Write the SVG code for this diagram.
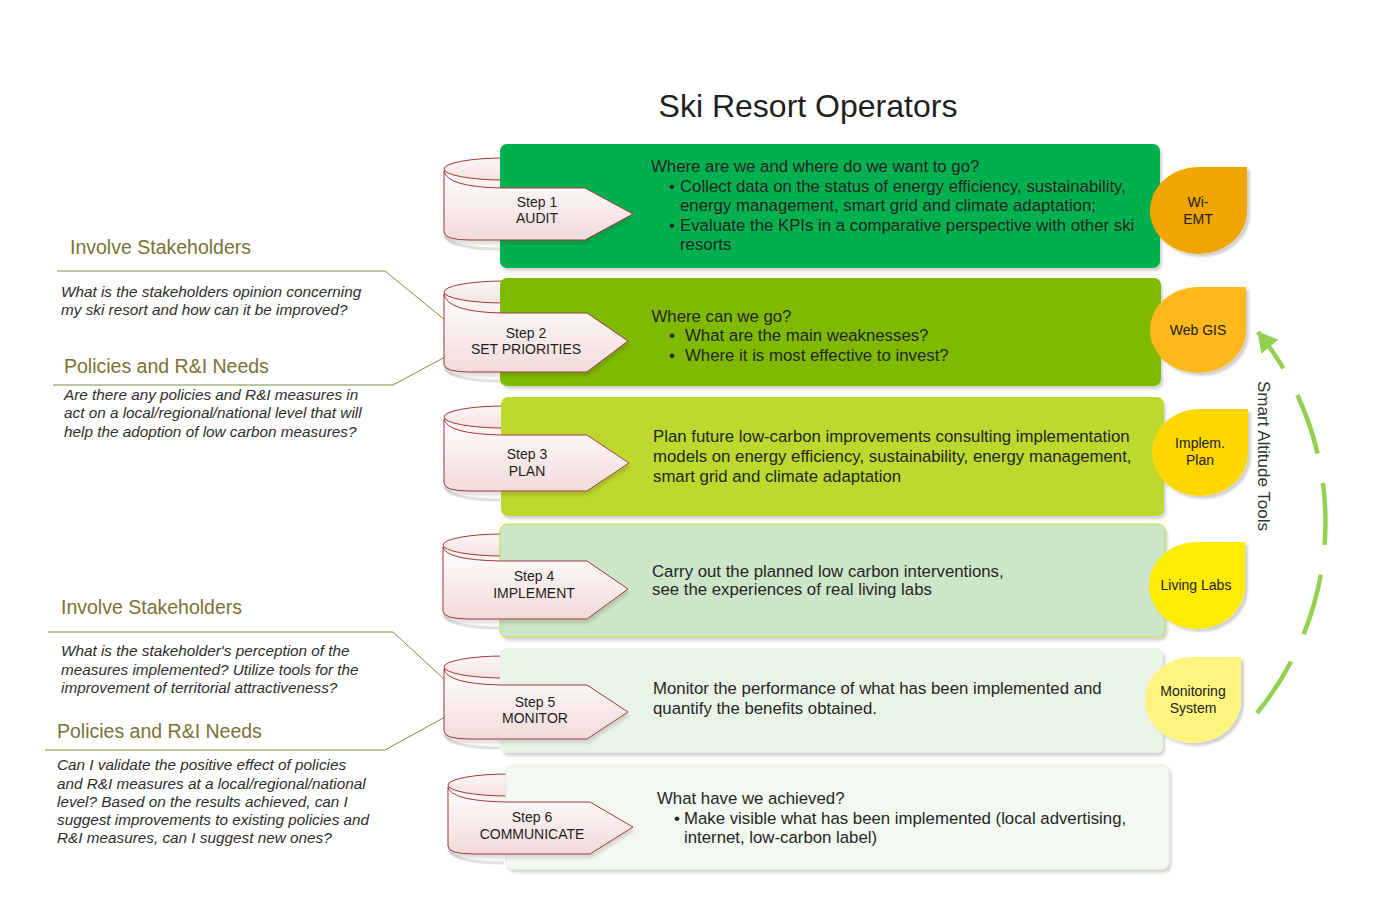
<svg xmlns="http://www.w3.org/2000/svg" width="1373" height="922" viewBox="0 0 1373 922">
<defs>
<style>
text{font-family:"Liberation Sans",Arial,sans-serif}
.cylb{fill:url(#gCyl);stroke:none}
.cyl{fill:url(#gCyl);stroke:#a23a3a;stroke-width:1}
.rib{fill:url(#gRib);stroke:#a23a3a;stroke-width:1;filter:url(#shR)}
.rsh{fill:none;stroke:#e2e2e2;stroke-width:3}
.box{filter:url(#shB)}
.st{font-size:14px;fill:#1e1e1e;text-anchor:middle}
.bt{font-size:16.8px;fill:#262626}
.hd{font-size:19.5px;fill:#7a7236}
.it{font-size:15.3px;font-style:italic;fill:#2e2e2e}
.lf{font-size:14px;fill:#222;text-anchor:middle}
.leaf{filter:url(#shL)}
.ann{fill:none;stroke:#77933c;stroke-width:1}
.arc{fill:none;stroke:#92d050;stroke-width:4.5;stroke-dasharray:62 30}
</style>
<linearGradient id="gRib" x1="0" y1="0" x2="0" y2="1">
<stop offset="0" stop-color="#ffffff"/>
<stop offset="1" stop-color="#f2dada"/>
</linearGradient>
<linearGradient id="gCyl" x1="0" y1="0" x2="0" y2="1">
<stop offset="0" stop-color="#fdf6f6"/>
<stop offset="1" stop-color="#f3e2e2"/>
</linearGradient>
<filter id="shB" x="-5%" y="-10%" width="110%" height="125%">
<feDropShadow dx="2" dy="3" stdDeviation="1.5" flood-color="#000" flood-opacity="0.18"/>
</filter>
<filter id="shR" x="-5%" y="-10%" width="115%" height="130%">
<feDropShadow dx="1" dy="4" stdDeviation="1.5" flood-color="#000" flood-opacity="0.12"/>
</filter>
<filter id="shL" x="-10%" y="-10%" width="125%" height="125%">
<feDropShadow dx="3" dy="3" stdDeviation="1.2" flood-color="#000" flood-opacity="0.18"/>
</filter>
<marker id="arr" markerUnits="userSpaceOnUse" markerWidth="26" markerHeight="26" refX="19" refY="11" orient="auto">
<path d="M0,0 L20,11 L0,22 Z" fill="#92d050"/>
</marker>
</defs>

<rect width="1373" height="922" fill="#ffffff"/>

<text id="title" x="808" y="117" font-size="32" fill="#1f1f1f" text-anchor="middle">Ski Resort Operators</text>

<g id="connectors">
<polyline class="ann" points="57,271 385,271 445,320"/>
<polyline class="ann" points="53,385 393,385 445,357"/>
<polyline class="ann" points="48,632 393,632 445,680"/>
<polyline class="ann" points="45,750 385,750 445,717"/>
<path class="arc" d="M1257,713 A301,301 0 0 0 1258,332" marker-end="url(#arr)"/>
</g>

<g id="step1">
<rect class="cylb" x="444" y="169" width="60" height="66"/>
<ellipse class="cyl" cx="504" cy="169" rx="60" ry="11"/>
<rect class="box" x="500" y="144" width="660" height="124" rx="7" fill="#00b050"/>
<text class="bt" x="651" y="172">Where are we and where do we want to go?</text>
<text class="bt" x="669" y="191.5">•</text>
<text class="bt" x="680" y="191.5">Collect data on the status of energy efficiency, sustainability,</text>
<text class="bt" x="680" y="211">energy management, smart grid and climate adaptation;</text>
<text class="bt" x="669" y="230.5">•</text>
<text class="bt" x="680" y="230.5">Evaluate the KPIs in a comparative perspective with other ski</text>
<text class="bt" x="680" y="250">resorts</text>
<path class="rsh" d="M445,236 Q452,249 500,249"/>
<path class="rib" d="M444,171 Q447,187 502,188 L585,188 L633,214 L585,240 L470,240 Q444,240 444,232 Z"/>
<text class="st" x="537" y="206.5">Step 1</text>
<text class="st" x="537" y="223">AUDIT</text>
</g>

<g id="step2">
<rect class="cylb" x="444" y="292" width="60" height="76"/>
<ellipse class="cyl" cx="504" cy="292" rx="60" ry="11"/>
<rect class="box" x="500" y="278" width="661" height="108" rx="7" fill="#7fba00"/>
<text class="bt" x="651.5" y="321.5">Where can we go?</text>
<text class="bt" x="669" y="341">•</text>
<text class="bt" x="685" y="341">What are the main weaknesses?</text>
<text class="bt" x="669" y="360.5">•</text>
<text class="bt" x="685" y="360.5">Where it is most effective to invest?</text>
<path class="rsh" d="M445,368 Q452,381 500,381"/>
<path class="rib" d="M444,294 Q447,312 502,313 L587,313 L628,341 L587,372 L470,372 Q444,372 444,364 Z"/>
<text class="st" x="526" y="338">Step 2</text>
<text class="st" x="526" y="354">SET PRIORITIES</text>
</g>

<g id="step3">
<rect class="cylb" x="444" y="417" width="60" height="70"/>
<ellipse class="cyl" cx="504" cy="417" rx="60" ry="11"/>
<rect class="box" x="501" y="397" width="663" height="119" rx="7" fill="#bdd92e"/>
<text class="bt" x="653" y="441.5">Plan future low-carbon improvements consulting implementation</text>
<text class="bt" x="653" y="461.5">models on energy efficiency, sustainability, energy management,</text>
<text class="bt" x="653" y="481.5">smart grid and climate adaptation</text>
<path class="rsh" d="M445,487 Q452,500 500,500"/>
<path class="rib" d="M444,419 Q447,434 502,435 L587,435 L629,463 L587,491 L470,491 Q444,491 444,483 Z"/>
<text class="st" x="527" y="459">Step 3</text>
<text class="st" x="527" y="476">PLAN</text>
</g>

<g id="step4">
<rect class="cylb" x="443" y="545" width="60" height="70"/>
<ellipse class="cyl" cx="503" cy="545" rx="60" ry="11"/>
<rect class="box" x="500" y="524" width="665" height="113" rx="7" fill="#cde5c8" stroke="#c4dd3a" stroke-width="1"/>
<text class="bt" x="652" y="576.5">Carry out the planned low carbon interventions,</text>
<text class="bt" x="652" y="595">see the experiences of real living labs</text>
<path class="rsh" d="M444,615 Q451,628 500,628"/>
<path class="rib" d="M443,547 Q446,560 501,561 L587,561 L628,589 L587,619 L469,619 Q443,619 443,611 Z"/>
<text class="st" x="534" y="581">Step 4</text>
<text class="st" x="534" y="598">IMPLEMENT</text>
</g>

<g id="step5">
<rect class="cylb" x="444" y="667" width="60" height="68"/>
<ellipse class="cyl" cx="504" cy="667" rx="60" ry="11"/>
<rect class="box" x="500" y="648" width="663" height="105" rx="7" fill="#eaf4e6"/>
<text class="bt" x="653" y="694">Monitor the performance of what has been implemented and</text>
<text class="bt" x="653" y="713.5">quantify the benefits obtained.</text>
<path class="rsh" d="M445,735 Q452,748 500,748"/>
<path class="rib" d="M444,669 Q447,684 502,685 L587,685 L628,712 L587,739 L470,739 Q444,739 444,731 Z"/>
<text class="st" x="535" y="706.5">Step 5</text>
<text class="st" x="535" y="723">MONITOR</text>
</g>

<g id="step6">
<rect class="cylb" x="448" y="785" width="60" height="65"/>
<ellipse class="cyl" cx="508" cy="785" rx="60" ry="11"/>
<rect class="box" x="506" y="765" width="663" height="104" rx="7" fill="#f3f8f1" stroke="#e6ebe3" stroke-width="1"/>
<text class="bt" x="657" y="803.5">What have we achieved?</text>
<text class="bt" x="674" y="823.5">•</text>
<text class="bt" x="684" y="823.5">Make visible what has been implemented (local advertising,</text>
<text class="bt" x="684" y="843">internet, low-carbon label)</text>
<path class="rsh" d="M449,850 Q456,863 504,863"/>
<path class="rib" d="M448,787 Q451,801 506,802 L590,802 L633,827 L590,854 L474,854 Q448,854 448,846 Z"/>
<text class="st" x="532" y="821.5">Step 6</text>
<text class="st" x="532" y="839">COMMUNICATE</text>
</g>

<g id="tool-wiemt">
<path class="leaf" fill="#f0a500" d="M1198.5,167 L1247,167 L1247,210.5 A48.5,43.5 0 0 1 1198.5,254 A48.5,43.5 0 0 1 1150,210.5 A48.5,43.5 0 0 1 1198.5,167 Z"/>
<text class="lf" x="1198" y="207">Wi-</text>
<text class="lf" x="1198" y="224">EMT</text>
</g>
<g id="tool-webgis">
<path class="leaf" fill="#fcb81a" d="M1198,287 L1246,287 L1246,330 A48,43 0 0 1 1198,373 A48,43 0 0 1 1150,330 A48,43 0 0 1 1198,287 Z"/>
<text class="lf" x="1198" y="335">Web GIS</text>
</g>
<g id="tool-implem">
<path class="leaf" fill="#fed700" d="M1200,409 L1248,409 L1248,452.5 A48,43.5 0 0 1 1200,496 A48,43.5 0 0 1 1152,452.5 A48,43.5 0 0 1 1200,409 Z"/>
<text class="lf" x="1200" y="448">Implem.</text>
<text class="lf" x="1200" y="465">Plan</text>
</g>
<g id="tool-livinglabs">
<path class="leaf" fill="#ffec00" d="M1197,542 L1245,542 L1245,585.5 A48,43.5 0 0 1 1197,629 A48,43.5 0 0 1 1149,585.5 A48,43.5 0 0 1 1197,542 Z"/>
<text class="lf" x="1196" y="590">Living Labs</text>
</g>
<g id="tool-monitoring">
<path class="leaf" fill="#fff47e" d="M1193,657 L1241,657 L1241,700 A48,43 0 0 1 1193,743 A48,43 0 0 1 1145,700 A48,43 0 0 1 1193,657 Z"/>
<text class="lf" x="1193" y="696">Monitoring</text>
<text class="lf" x="1193" y="713">System</text>
</g>

<text id="tools-label" transform="translate(1258,456) rotate(90)" font-size="17" fill="#333" text-anchor="middle">Smart Altitude Tools</text>

<g id="note-stakeholders-1">
<text class="hd" x="70" y="254">Involve Stakeholders</text>
<text class="it" x="61" y="297">What is the stakeholders opinion concerning</text>
<text class="it" x="61" y="315">my ski resort and how can it be improved?</text>
</g>
<g id="note-policies-1">
<text class="hd" x="64" y="372.5">Policies and R&amp;I Needs</text>
<text class="it" x="64" y="399.5">Are there any policies and R&amp;I measures in</text>
<text class="it" x="64" y="418">act on a local/regional/national level that will</text>
<text class="it" x="64" y="436.5">help the adoption of low carbon measures?</text>
</g>
<g id="note-stakeholders-2">
<text class="hd" x="61" y="614">Involve Stakeholders</text>
<text class="it" x="61" y="656">What is the stakeholder's perception of the</text>
<text class="it" x="61" y="674.5">measures implemented? Utilize tools for the</text>
<text class="it" x="61" y="693">improvement of territorial attractiveness?</text>
</g>
<g id="note-policies-2">
<text class="hd" x="57" y="738">Policies and R&amp;I Needs</text>
<text class="it" x="57" y="770">Can I validate the positive effect of policies</text>
<text class="it" x="57" y="788.5">and R&amp;I measures at a local/regional/national</text>
<text class="it" x="57" y="807">level? Based on the results achieved, can I</text>
<text class="it" x="57" y="825">suggest improvements to existing policies and</text>
<text class="it" x="57" y="843">R&amp;I measures, can I suggest new ones?</text>
</g>
</svg>
